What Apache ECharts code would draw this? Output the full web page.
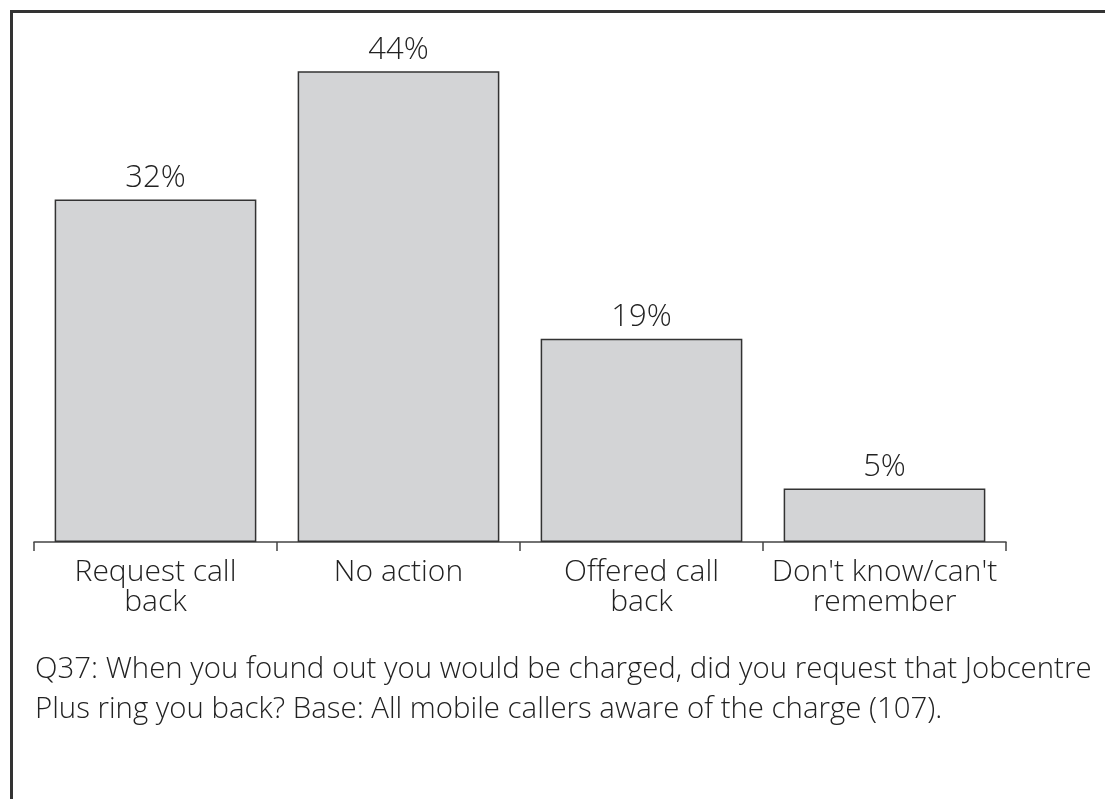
<!DOCTYPE html>
<html>
<head>
<meta charset="utf-8">
<script src="https://cdn.jsdelivr.net/npm/echarts@6/dist/echarts.min.js"></script>
<style>
html,body{margin:0;padding:0;background:#fff;overflow:hidden;}
#frame{position:absolute;left:10px;top:10px;width:1200px;height:900px;border-top:3px solid #333;border-left:3px solid #333;}
#chart_main{position:absolute;left:0;top:0;width:1105px;height:799px;}
</style>
</head>
<body>
<div id="frame"></div>
<div id="chart_main"></div>
<script>
// categories and values
var categories = ['Request call\nback', 'No action', 'Offered call\nback', "Don't know/can't\nremember"];
var values = [32, 44, 19, 5];
var captionLines = [
	'Q37: When you found out you would be charged, did you request that Jobcentre',
	'Plus ring you back? Base: All mobile callers aware of the charge (107).'
];

var chart = echarts.init(document.getElementById('chart_main'));
var font = '"Open Sans", "Noto Sans", sans-serif';

var option = {
	animation: false,
	title: {
		text: captionLines.join('\n'),
		left: 30,
		top: 645,
		textStyle: {
			fontFamily: font,
			fontSize: 29.4,
			fontWeight: 300,
			color: '#222',
			lineHeight: 40
		}
	},
	grid: {
		left: 34,
		right: 99,
		top: 7,
		bottom: 257
	},
	xAxis: {
		type: 'category',
		data: categories,
		axisLine: { lineStyle: { color: '#444', width: 1.5 } },
		axisTick: { show: true, length: 9, lineStyle: { color: '#444', width: 1.5 } },
		axisLabel: {
			fontFamily: font,
			fontSize: 30,
			fontWeight: 300,
			color: '#222',
			lineHeight: 30,
			margin: 15,
			interval: 0
		}
	},
	yAxis: {
		type: 'value',
		min: 0,
		max: 50,
		show: false,
		splitLine: { show: false }
	},
	series: [{
		type: 'bar',
		data: values,
		barCategoryGap: '17%',
		itemStyle: {
			color: '#d3d4d6',
			borderColor: '#333',
			borderWidth: 1.5
		},
		label: {
			show: true,
			position: 'top',
			distance: 6,
			formatter: '{c}%',
			fontFamily: font,
			fontSize: 31,
			fontWeight: 300,
			color: '#222'
		}
	}]
};
chart.setOption(option);
</script>
</body>
</html>
